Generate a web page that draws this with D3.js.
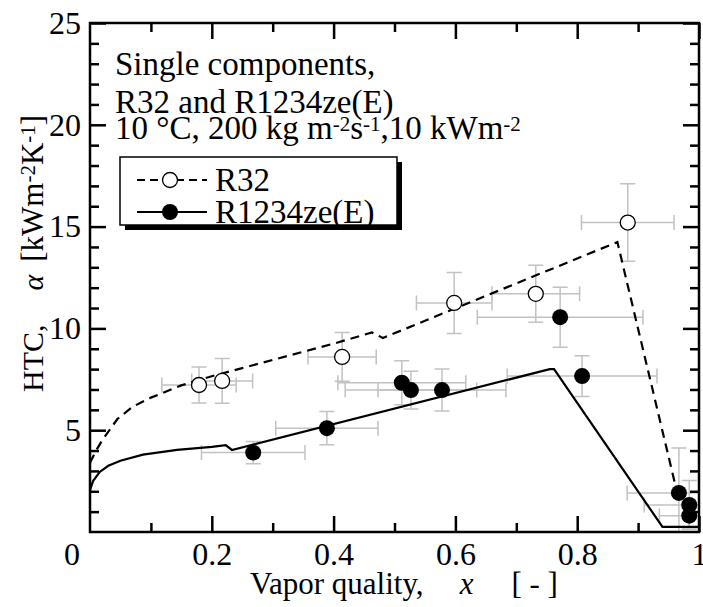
<!DOCTYPE html>
<html>
<head>
<meta charset="utf-8">
<script src="https://cdn.jsdelivr.net/npm/d3@7"></script>
<style>
body { margin: 0; background: #fff; }
text { font-family: "Liberation Serif", "Times New Roman", serif; fill: #000; }
</style>
</head>
<body>
<div class="container"></div>
<script>
// measured HTC, R32 (open circles)
const r32X    = [0.179, 0.217, 0.414, 0.598, 0.732, 0.883];
const r32Y    = [7.22, 7.42, 8.6, 11.25, 11.7, 15.2];
const r32Xerr = [0.061, 0.05, 0.056, 0.062, 0.072, 0.076];
const r32Yerr = [0.88, 1.1, 1.2, 1.5, 1.4, 1.9];

// measured HTC, R1234ze(E) (filled circles)
const zeX    = [0.268, 0.389, 0.512, 0.527, 0.578, 0.772, 0.808, 0.967, 0.984, 0.984];
const zeY    = [3.9, 5.1, 7.33, 6.97, 6.97, 10.55, 7.66, 1.92, 1.33, 0.8];
const zeXerr = [0.085, 0.084, 0.105, 0.108, 0.105, 0.136, 0.123, 0.085, 0.074, 0.049];
const zeYerr = [0.55, 0.82, 1.08, 0.93, 1.03, 1.47, 1.0, 2.2, 1.2, 0.6];

// correlation curves
const r32LineX = [0, 0.01, 0.02, 0.045, 0.07, 0.1, 0.15, 0.2, 0.25, 0.3, 0.35, 0.4, 0.463, 0.481, 0.866, 0.962];
const r32LineY = [3.4, 4.0, 4.5, 5.55, 6.15, 6.6, 7.2, 7.65, 8.05, 8.45, 8.85, 9.25, 9.8, 9.53, 14.24, 2.2];
const zeLineX = [0, 0.005, 0.016, 0.03, 0.05, 0.087, 0.143, 0.2, 0.223, 0.233, 0.755, 0.762, 0.94, 1.0];
const zeLineY = [2.05, 2.5, 2.95, 3.25, 3.5, 3.8, 4.03, 4.18, 4.27, 4.03, 8.0, 8.0, 0.25, 0.25];

// ticks
const xMajor = [0.2, 0.4, 0.6, 0.8, 1];
const xTickLabels = ["0.2", "0.4", "0.6", "0.8", "1"];
const xMinor = [0.1, 0.3, 0.5, 0.7, 0.9];
const yMajor = [5, 10, 15, 20, 25];
const yMinor = [1, 2, 3, 4, 6, 7, 8, 9, 11, 12, 13, 14, 16, 17, 18, 19, 21, 22, 23, 24];

const margin = {top: 23, right: 4, bottom: 75, left: 90};
const width = 703 - margin.left - margin.right,
      height = 607 - margin.top - margin.bottom;

const root = d3.select(".container")
               .append("svg")
               .attr("width", 703)
               .attr("height", 607);
const svg = root.append("g")
                .attr("transform", `translate(${margin.left},${margin.top})`);

const xScale = d3.scaleLinear().domain([0, 1]).range([0, width]);
const yScale = d3.scaleLinear().domain([0, 25]).range([height, 0]);

svg.append("clipPath").attr("id", "plot-clip")
   .append("rect").attr("width", width).attr("height", height);

const plot = svg.append("g").attr("clip-path", "url(#plot-clip)");

// error bars
function errorBars(xs, ys, xe, ye) {
    const cap = 7.5;
    const g = plot.append("g")
                  .attr("stroke", "#c2c2c2")
                  .attr("stroke-width", 1.5)
                  .attr("fill", "none");
    xs.forEach((xv, i) => {
        const cx = xScale(xv), cy = yScale(ys[i]);
        const x0 = xScale(xv - xe[i]), x1 = xScale(xv + xe[i]);
        const y0 = yScale(ys[i] - ye[i]), y1 = yScale(ys[i] + ye[i]);
        g.append("path").attr("d",
            `M${x0},${cy}H${x1}M${x0},${cy - cap}V${cy + cap}M${x1},${cy - cap}V${cy + cap}` +
            `M${cx},${y0}V${y1}M${cx - cap},${y0}H${cx + cap}M${cx - cap},${y1}H${cx + cap}`);
    });
}
errorBars(r32X, r32Y, r32Xerr, r32Yerr);
errorBars(zeX, zeY, zeXerr, zeYerr);

const line = d3.line()
               .x(d => xScale(d[0]))
               .y(d => yScale(d[1]));

plot.append("path")
    .datum(r32LineX.map((v, i) => [v, r32LineY[i]]))
    .attr("fill", "none")
    .attr("stroke", "black")
    .attr("stroke-width", 2.2)
    .attr("stroke-dasharray", "9,6")
    .attr("d", line);

plot.append("path")
    .datum(zeLineX.map((v, i) => [v, zeLineY[i]]))
    .attr("fill", "none")
    .attr("stroke", "black")
    .attr("stroke-width", 2.2)
    .attr("d", line);

plot.selectAll(".r32")
    .data(r32X.map((v, i) => [v, r32Y[i]]))
    .enter().append("circle")
    .attr("cx", d => xScale(d[0]))
    .attr("cy", d => yScale(d[1]))
    .attr("r", 7.5)
    .attr("fill", "white")
    .attr("stroke", "black")
    .attr("stroke-width", 1.3);

plot.selectAll(".ze")
    .data(zeX.map((v, i) => [v, zeY[i]]))
    .enter().append("circle")
    .attr("cx", d => xScale(d[0]))
    .attr("cy", d => yScale(d[1]))
    .attr("r", 8)
    .attr("fill", "black");

// axes, ticks pointing inward on all four sides
function styleAxis(g) {
    g.select(".domain").remove();
    g.selectAll(".tick line").attr("stroke", "black").attr("stroke-width", 2.5);
    g.selectAll(".tick text").style("font-size", "32px").attr("font-family", null);
}
svg.append("g")
   .attr("transform", `translate(0,${height})`)
   .call(d3.axisBottom(xScale).tickValues(xMajor)
         .tickFormat((d, i) => xTickLabels[i])
         .tickSizeInner(-16).tickSizeOuter(0).tickPadding(10))
   .call(styleAxis);
svg.append("g")
   .attr("transform", `translate(0,${height})`)
   .call(d3.axisBottom(xScale).tickValues(xMinor).tickFormat("").tickSize(-9))
   .call(styleAxis);
svg.append("g")
   .call(d3.axisTop(xScale).tickValues(xMajor).tickFormat("").tickSize(-16))
   .call(styleAxis);
svg.append("g")
   .call(d3.axisTop(xScale).tickValues(xMinor).tickFormat("").tickSize(-9))
   .call(styleAxis);
svg.append("g")
   .call(d3.axisLeft(yScale).tickValues(yMajor).tickSizeInner(-16).tickSizeOuter(0).tickPadding(9))
   .call(styleAxis);
svg.append("g")
   .call(d3.axisLeft(yScale).tickValues(yMinor).tickFormat("").tickSize(-9))
   .call(styleAxis);
svg.append("g")
   .attr("transform", `translate(${width},0)`)
   .call(d3.axisRight(yScale).tickValues(yMajor).tickFormat("").tickSize(-16))
   .call(styleAxis);
svg.append("g")
   .attr("transform", `translate(${width},0)`)
   .call(d3.axisRight(yScale).tickValues(yMinor).tickFormat("").tickSize(-9))
   .call(styleAxis);

svg.append("text")
   .attr("x", -18).attr("y", height + 33)
   .attr("text-anchor", "middle")
   .style("font-size", "32px")
   .text("0");

svg.append("rect")
   .attr("width", width).attr("height", height)
   .attr("fill", "none")
   .attr("stroke", "black")
   .attr("stroke-width", 2.5);

// axis titles
const xTitle = root.append("text")
                   .attr("x", 250).attr("y", 594)
                   .style("font-size", "31px");
xTitle.append("tspan").text("Vapor quality,");
xTitle.append("tspan").attr("dx", 36).style("font-style", "italic").text("x");
xTitle.append("tspan").attr("dx", 38).text("[ - ]");

const yTitle = root.append("text")
                   .attr("transform", "translate(43,392) rotate(-90)")
                   .style("font-size", "30px");
yTitle.append("tspan").text("HTC,");
yTitle.append("tspan").attr("dx", 34).style("font-style", "italic").text("α");
yTitle.append("tspan").attr("dx", 13).style("font-size", "31px").text("[kWm");
yTitle.append("tspan").attr("dy", -8).style("font-size", "21px").text("-2");
yTitle.append("tspan").attr("dy", 8).style("font-size", "31px").text("K");
yTitle.append("tspan").attr("dy", -8).style("font-size", "21px").text("-1");
yTitle.append("tspan").attr("dy", 8).style("font-size", "31px").text("]");

// condition note
const note = root.append("g").style("font-size", "33px");
note.append("text").attr("x", 115).attr("y", 75).text("Single components,");
note.append("text").attr("x", 115).attr("y", 113).text("R32 and R1234ze(E)");
const l3 = note.append("text").attr("x", 115).attr("y", 139);
l3.append("tspan").text("10 °C, 200 kg m");
l3.append("tspan").attr("dy", -8).style("font-size", "21px").text("-2");
l3.append("tspan").attr("dy", 8).text("s");
l3.append("tspan").attr("dy", -8).style("font-size", "21px").text("-1");
l3.append("tspan").attr("dy", 8).text(",10 kWm");
l3.append("tspan").attr("dy", -8).style("font-size", "21px").text("-2");

// legend
const legend = root.append("g");
legend.append("rect")
      .attr("x", 125).attr("y", 162).attr("width", 277).attr("height", 68)
      .attr("fill", "black");
legend.append("rect")
      .attr("x", 120).attr("y", 157).attr("width", 277).attr("height", 68)
      .attr("fill", "white").attr("stroke", "black").attr("stroke-width", 1.5);
legend.append("line")
      .attr("x1", 137).attr("x2", 207).attr("y1", 180).attr("y2", 180)
      .attr("stroke", "black").attr("stroke-width", 2).attr("stroke-dasharray", "8,5");
legend.append("circle")
      .attr("cx", 170).attr("cy", 180).attr("r", 7.5)
      .attr("fill", "white").attr("stroke", "black").attr("stroke-width", 1.3);
legend.append("line")
      .attr("x1", 137).attr("x2", 207).attr("y1", 212).attr("y2", 212)
      .attr("stroke", "black").attr("stroke-width", 2);
legend.append("circle")
      .attr("cx", 170).attr("cy", 212).attr("r", 8).attr("fill", "black");
legend.append("text").attr("x", 215).attr("y", 191).style("font-size", "33px").text("R32");
legend.append("text").attr("x", 215).attr("y", 223).style("font-size", "33px").text("R1234ze(E)");
</script>
</body>
</html>
